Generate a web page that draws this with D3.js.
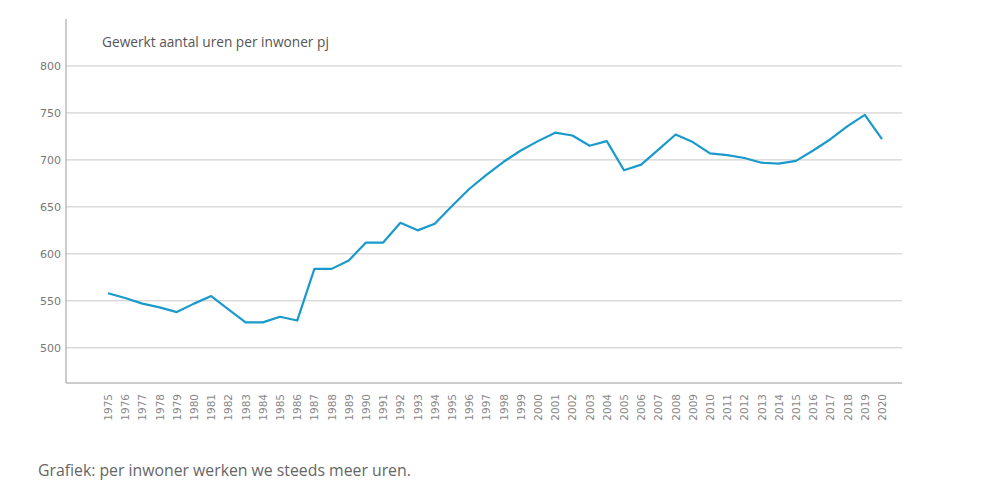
<!DOCTYPE html>
<html><head><meta charset="utf-8">
<script src="https://cdn.jsdelivr.net/npm/d3@7"></script>
<style>body{margin:0;background:#fff}</style>
</head><body>
<svg id="c" width="1000" height="495"></svg>
<script>
const years = d3.range(1975, 2021).map(String);
const hours = [558,553,547,543,538,547,555,541,527,527,533,529,584,584,593,612,612,633,625,632,
               651,669,684,698,710,720,729,726,715,720,689,695,711,727,719,707,705,702,697,696,
               699,710,722,736,748,722];
const yTicks = [500,550,600,650,700,750,800];
const title = "Gewerkt aantal uren per inwoner pj";
const caption = "Grafiek: per inwoner werken we steeds meer uren.";

const svg = d3.select("#c");
const x = d3.scalePoint().domain(years).range([108, 882]);
const y = d3.scaleLinear().domain([462.5, 850]).range([383, 19]);
const left = 66, right = 902;

svg.append("g").selectAll("line").data(yTicks).join("line")
  .attr("x1", left).attr("x2", right)
  .attr("y1", d => y(d)).attr("y2", d => y(d))
  .attr("stroke", "#c8c8c8").attr("stroke-width", 1);

svg.append("g").selectAll("text").data(yTicks).join("text")
  .attr("x", left - 5).attr("y", d => y(d)).attr("dy", "0.35em")
  .attr("text-anchor", "end").attr("font-family", "DejaVu Sans, sans-serif")
  .attr("font-size", 11).attr("fill", "#777").text(d => d);

svg.append("line").attr("x1", left).attr("x2", left).attr("y1", y(850)).attr("y2", y(462.5))
  .attr("stroke", "#999").attr("stroke-width", 1);
svg.append("line").attr("x1", left).attr("x2", right).attr("y1", y(462.5)).attr("y2", y(462.5))
  .attr("stroke", "#999").attr("stroke-width", 1);

svg.append("g").selectAll("text").data(years).join("text")
  .attr("transform", d => `translate(${x(d)+4},${y(462.5)+11}) rotate(-90)`)
  .attr("text-anchor", "end").attr("font-family", "DejaVu Sans, sans-serif")
  .attr("font-size", 10.5).attr("fill", "#888").text(d => d);

const line = d3.line().x((d, i) => x(years[i])).y(d => y(d));
svg.append("path").datum(hours).attr("d", line)
  .attr("fill", "none").attr("stroke", "#1a9acb").attr("stroke-width", 2.2)
  .attr("stroke-linejoin", "round");

svg.append("text").attr("x", 102).attr("y", 47).attr("font-family", "Open Sans, sans-serif")
  .attr("font-size", 13.7).attr("fill", "#555").text(title);
svg.append("text").attr("x", 38).attr("y", 476).attr("font-family", "Open Sans, sans-serif")
  .attr("font-size", 15.8).attr("fill", "#666").text(caption);
</script>
</body></html>
